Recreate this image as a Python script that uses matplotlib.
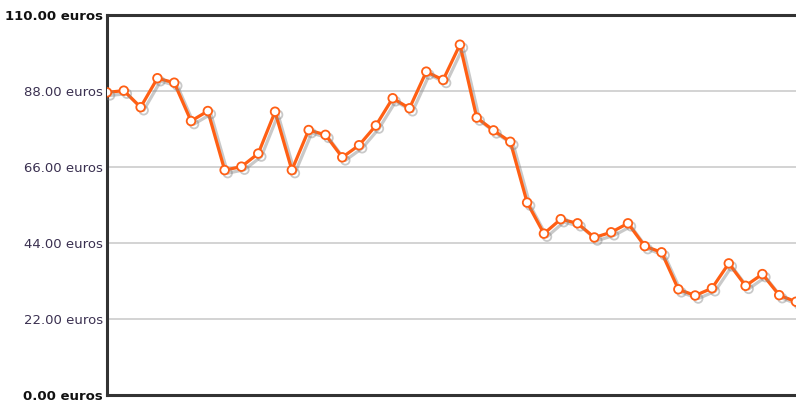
import matplotlib
matplotlib.use('Agg')
import matplotlib.pyplot as plt
import matplotlib.patheffects as pe

# prices, one per point (42 points)
prices = [87.6, 88.1, 83.3, 91.7, 90.4, 79.3, 82.2, 65.1, 66.1, 69.9,
          82.0, 65.1, 76.7, 75.3, 68.8, 72.3, 78.0, 85.9, 83.0, 93.6,
          91.2, 101.4, 80.3, 76.6, 73.3, 55.7, 46.7, 50.9, 49.7, 45.6,
          47.1, 49.7, 43.1, 41.3, 30.6, 28.8, 30.9, 38.1, 31.6, 35.0,
          28.9, 27.0]
y_ticks = [0, 22, 44, 66, 88, 110]
y_labels = ['%.2f euros' % v for v in y_ticks]

fig = plt.figure(figsize=(7.96, 4.03), dpi=100)
ax = fig.add_axes([107 / 796, 8 / 403, 1 - 107 / 796, 380 / 403])

x = list(range(len(prices)))
ax.plot(x, prices, color='#ff5f14', lw=2.3, marker='o', ms=6.2,
        mfc='white', mec='#ff5f14', mew=1.3, zorder=3,
        path_effects=[pe.SimpleLineShadow(offset=(2.2, -2.2), shadow_color='#888888', alpha=0.45),
                      pe.Normal()])

ax.set_xlim(0, len(prices) - 1)
ax.set_ylim(0, 110)
ax.set_yticks(y_ticks)
ax.set_yticklabels(y_labels)
ax.set_xticks([])

ax.grid(axis='y', color='#cccccc', lw=1.2)
ax.set_axisbelow(True)

for side in ['left', 'bottom', 'top']:
    ax.spines[side].set_color('#333333')
    ax.spines[side].set_linewidth(2.2)
ax.spines['right'].set_visible(False)

ax.tick_params(axis='y', length=0, pad=3, labelsize=9.5, labelcolor='#3a3050')
for lbl in ax.get_yticklabels():
    if lbl.get_text().startswith(('0.00', '110.00')):
        lbl.set_fontweight('bold')
        lbl.set_color('#111111')

fig.savefig('out.png', dpi=100)
